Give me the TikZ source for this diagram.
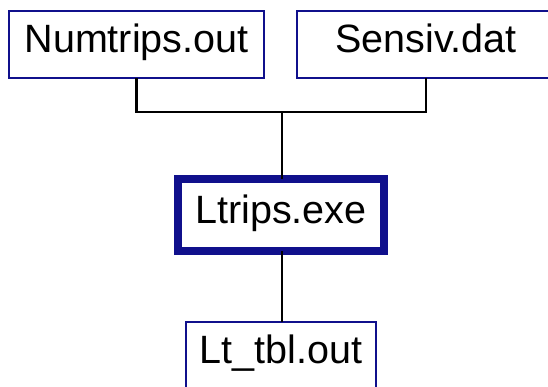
\documentclass[tikz,border=0pt]{standalone}
\usepackage{fontspec}
\setmainfont{Liberation Sans}
\definecolor{boxblue}{RGB}{16,16,140}
\begin{document}
\begin{tikzpicture}[x=1pt,y=-1pt,
  filebox/.style={draw=boxblue,line width=2pt,fill=white,inner sep=0pt,outer sep=0pt,
    font=\fontsize{39.5}{46}\selectfont,text height=28pt,text depth=12pt},
  progbox/.style={filebox,line width=8pt},
  link/.style={draw=black,line width=2.7pt}]
\useasboundingbox (0,0) rectangle (548,387);
\clip (0,0) rectangle (548,387);
% input files
\node[filebox,minimum width=255pt,minimum height=67pt] (num) at (136.5,44.5) {Numtrips.out};
\node[filebox,minimum width=258pt,minimum height=67pt] (sen) at (426,44.5) {Sensiv.dat};
% program
\node[progbox,minimum width=206pt,minimum height=72pt] (prog) at (281,215) {Ltrips.exe};
% output file
\node[filebox,minimum width=190pt,minimum height=67pt] (out) at (281,355) {Lt\_tbl.out};
% connectors
\coordinate (jn) at (282,112);
\draw[link] (num.south) |- (jn) -| (sen.south);
\draw[link] (jn) -- (jn |- prog.north);
\draw[link] (prog.south -| jn) -- (jn |- out.north);
\end{tikzpicture}
\end{document}
